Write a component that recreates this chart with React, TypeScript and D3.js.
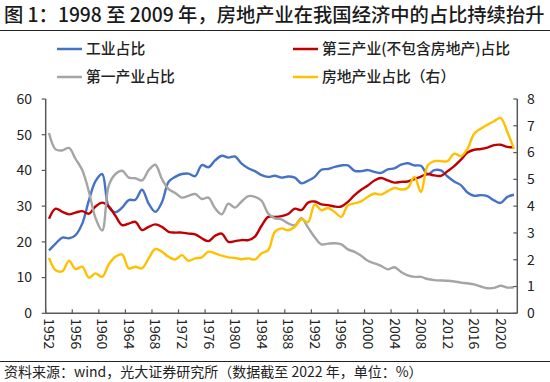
import React from 'react';
import * as d3 from 'd3';

const years = [
  1952, 1953, 1954, 1955, 1956, 1957, 1958, 1959, 1960, 1961,
  1962, 1963, 1964, 1965, 1966, 1967, 1968, 1969, 1970, 1971,
  1972, 1973, 1974, 1975, 1976, 1977, 1978, 1979, 1980, 1981,
  1982, 1983, 1984, 1985, 1986, 1987, 1988, 1989, 1990, 1991,
  1992, 1993, 1994, 1995, 1996, 1997, 1998, 1999, 2000, 2001,
  2002, 2003, 2004, 2005, 2006, 2007, 2008, 2009, 2010, 2011,
  2012, 2013, 2014, 2015, 2016, 2017, 2018, 2019, 2020, 2021, 2022,
];

// 工业占比 (left axis, %)
const industry = [
  17.6, 19.5, 21.2, 21.0, 21.9, 25.1, 31.6, 37.0, 39.0, 29.7,
  28.3, 29.6, 31.7, 31.8, 34.6, 30.7, 28.4, 31.1, 36.8, 38.2,
  39.0, 39.1, 38.4, 41.5, 40.9, 42.8, 44.1, 43.6, 43.9, 41.9,
  40.6, 39.8, 38.7, 38.2, 38.5, 38.0, 38.3, 38.0, 36.4, 37.1,
  38.2, 40.2, 40.4, 41.0, 41.4, 41.4, 39.9, 39.8, 40.1, 39.6,
  39.3, 40.3, 40.6, 41.6, 42.0, 41.4, 41.3, 38.9, 40.1, 40.0,
  38.3, 36.9, 35.9, 33.8, 32.9, 33.1, 32.8, 31.6, 30.9, 32.6, 33.2,
];

// 第三产业(不包含房地产)占比 (left axis, %)
const tertiaryExRE = [
  26.5, 29.3, 28.4, 27.7, 28.2, 28.6, 27.9, 29.9, 31.0, 29.9,
  27.3, 24.7, 25.1, 25.6, 23.3, 24.2, 24.9, 24.2, 22.8, 22.6,
  22.6, 22.3, 22.1, 21.0, 20.2, 21.7, 22.3, 20.0, 20.2, 20.5,
  20.5, 21.5, 24.5, 27.0, 27.0, 27.2, 27.8, 29.3, 28.9, 31.0,
  31.3, 30.5, 30.3, 29.9, 29.9, 31.2, 33.1, 34.6, 35.8, 37.2,
  37.9, 37.2, 36.6, 36.8, 36.9, 37.6, 38.3, 39.0, 38.6, 38.5,
  39.8, 41.2, 43.0, 45.0, 45.8, 46.0, 46.4, 47.1, 47.2, 46.6, 46.5,
];

// 第一产业占比 (left axis, %)
const primary = [
  50.5, 45.9, 45.6, 46.3, 43.2, 40.1, 34.1, 26.7, 23.2, 35.8,
  39.0, 39.9, 38.0, 37.8, 37.2, 40.1, 41.6, 37.6, 34.8, 33.7,
  32.4, 32.9, 33.4, 32.0, 32.4, 29.4, 27.7, 30.7, 29.6, 31.3,
  32.8, 32.6, 31.5, 27.9, 26.6, 26.3, 25.2, 24.6, 26.6, 24.0,
  21.3, 19.3, 19.5, 19.6, 19.3, 17.9, 17.2, 16.1, 14.7, 14.0,
  13.3, 12.3, 12.9, 11.6, 10.6, 10.2, 10.2, 9.6, 9.3, 9.2,
  9.1, 8.9, 8.6, 8.4, 8.1, 7.5, 7.0, 7.1, 7.7, 7.2, 7.3,
];

// 房地产业占比 (right axis, %)
const realEstate = [
  2.07, 1.61, 1.57, 1.96, 1.65, 1.74, 1.33, 1.49, 1.36, 1.83,
  2.11, 2.20, 1.68, 1.74, 1.68, 2.05, 2.40, 2.30, 2.11, 2.01,
  2.17, 1.96, 2.05, 2.09, 2.30, 2.24, 2.15, 2.09, 2.07, 2.02,
  2.05, 2.01, 2.24, 2.36, 3.04, 3.17, 3.10, 3.23, 3.51, 3.41,
  4.06, 3.85, 3.93, 3.78, 3.60, 4.03, 4.10, 4.18, 4.35, 4.47,
  4.43, 4.56, 4.68, 4.62, 4.68, 5.09, 4.53, 5.52, 5.68, 5.68,
  5.68, 5.96, 5.87, 6.14, 6.70, 6.89, 7.04, 7.17, 7.29, 6.77, 6.14,
];

const xTickLabels = [
  '1952', '1956', '1960', '1964', '1968', '1972', '1976', '1980', '1984',
  '1988', '1992', '1996', '2000', '2004', '2008', '2012', '2016', '2020',
];
const leftTicks = [0, 10, 20, 30, 40, 50, 60];
const rightTicks = [0, 1, 2, 3, 4, 5, 6, 7, 8];

const titleText = '图 1：1998 至 2009 年，房地产业在我国经济中的占比持续抬升';
const sourceText = '资料来源：wind，光大证券研究所（数据截至 2022 年，单位：%）';

const seriesDefs = [
  { name: '工业占比', values: industry, color: '#4472C4', axis: 'left' },
  { name: '第三产业(不包含房地产)占比', values: tertiaryExRE, color: '#C00000', axis: 'left' },
  { name: '第一产业占比', values: primary, color: '#A5A5A5', axis: 'left' },
  { name: '房地产业占比（右）', values: realEstate, color: '#FFC000', axis: 'right' },
];

const W = 550;
const H = 382;
const PL = 45.7;
const PR = 517.3;
const PT = 99;
const PB = 313.3;
const FONT = '"Noto Sans CJK SC", "Noto Sans", sans-serif';
const AXIS = '#595959';

export default function App() {
  const x = d3.scaleBand<number>().domain(years).range([PL, PR]).paddingInner(0).paddingOuter(0);
  const bw = x.bandwidth();
  const cx = (yr: number) => (x(yr) as number) + bw / 2;
  const yL = d3.scaleLinear().domain([0, 60]).range([PB, PT]);
  const yR = d3.scaleLinear().domain([0, 8]).range([PB, PT]);

  const makeLine = (scale: d3.ScaleLinear<number, number>) =>
    d3
      .line<number>()
      .x((_, i) => cx(years[i]))
      .y((d) => scale(d))
      .curve(d3.curveCatmullRom.alpha(0.5));

  const legendItems = [
    { s: seriesDefs[0], lx: 57, ly: 49 },
    { s: seriesDefs[1], lx: 293, ly: 49 },
    { s: seriesDefs[2], lx: 57, ly: 77 },
    { s: seriesDefs[3], lx: 293, ly: 77 },
  ];

  return (
    <svg
      width={W}
      height={H}
      viewBox={`0 0 ${W} ${H}`}
      style={{ position: 'fixed', left: 0, top: 0, background: '#fff', fontFamily: FONT }}
    >
      <rect x={0} y={0} width={W} height={H} fill="#fff" />
      <text x={4} y={21.5} fontSize={19.3} fontWeight={500} fill="#1a1a1a">
        {titleText}
      </text>
      <line x1={0} x2={W} y1={30.5} y2={30.5} stroke="#222" strokeWidth={1} />

      {legendItems.map(({ s, lx, ly }) => (
        <g key={s.name}>
          <line x1={lx} x2={lx + 25} y1={ly} y2={ly} stroke={s.color} strokeWidth={2.5} />
          <text x={lx + 29} y={ly} dy="0.35em" fontSize={14.8} fontWeight={500} fill="#222">
            {s.name}
          </text>
        </g>
      ))}

      {/* series */}
      {seriesDefs.map((s) => (
        <path
          key={s.name}
          d={makeLine(s.axis === 'left' ? yL : yR)(s.values) || ''}
          fill="none"
          stroke={s.color}
          strokeWidth={2.4}
          strokeLinejoin="round"
        />
      ))}

      {/* left axis */}
      <line x1={PL} x2={PL} y1={PT} y2={PB} stroke={AXIS} strokeWidth={1.5} />
      {leftTicks.map((t) => (
        <g key={'l' + t}>
          <line x1={PL - 4} x2={PL} y1={yL(t)} y2={yL(t)} stroke={AXIS} strokeWidth={1.2} />
          <text x={32} y={yL(t)} dy="0.35em" textAnchor="end" fontSize={14} fill="#222">
            {t}
          </text>
        </g>
      ))}

      {/* right axis */}
      <line x1={PR} x2={PR} y1={PT} y2={PB} stroke={AXIS} strokeWidth={1.5} />
      {rightTicks.map((t) => (
        <g key={'r' + t}>
          <line x1={PR - 4} x2={PR} y1={yR(t)} y2={yR(t)} stroke={AXIS} strokeWidth={1.2} />
          <text x={527} y={yR(t)} dy="0.35em" textAnchor="start" fontSize={14} fill="#222">
            {t}
          </text>
        </g>
      ))}

      {/* bottom axis */}
      <line x1={PL} x2={PR} y1={PB} y2={PB} stroke={AXIS} strokeWidth={1.5} />
      {xTickLabels.map((lab) => {
        const yr = +lab;
        const tx = x(yr) as number;
        return (
          <g key={'x' + lab}>
            <line x1={tx} x2={tx} y1={PB - 4} y2={PB} stroke={AXIS} strokeWidth={1.2} />
            <text
              transform={`translate(${cx(yr)},${PB + 5}) rotate(90)`}
              dy="0.35em"
              textAnchor="start"
              fontSize={14}
              fill="#222"
            >
              {lab}
            </text>
          </g>
        );
      })}

      <line x1={0} x2={W} y1={361.5} y2={361.5} stroke="#222" strokeWidth={1} />
      <text x={4} y={377} fontSize={14} fill="#222">
        {sourceText}
      </text>
    </svg>
  );
}
